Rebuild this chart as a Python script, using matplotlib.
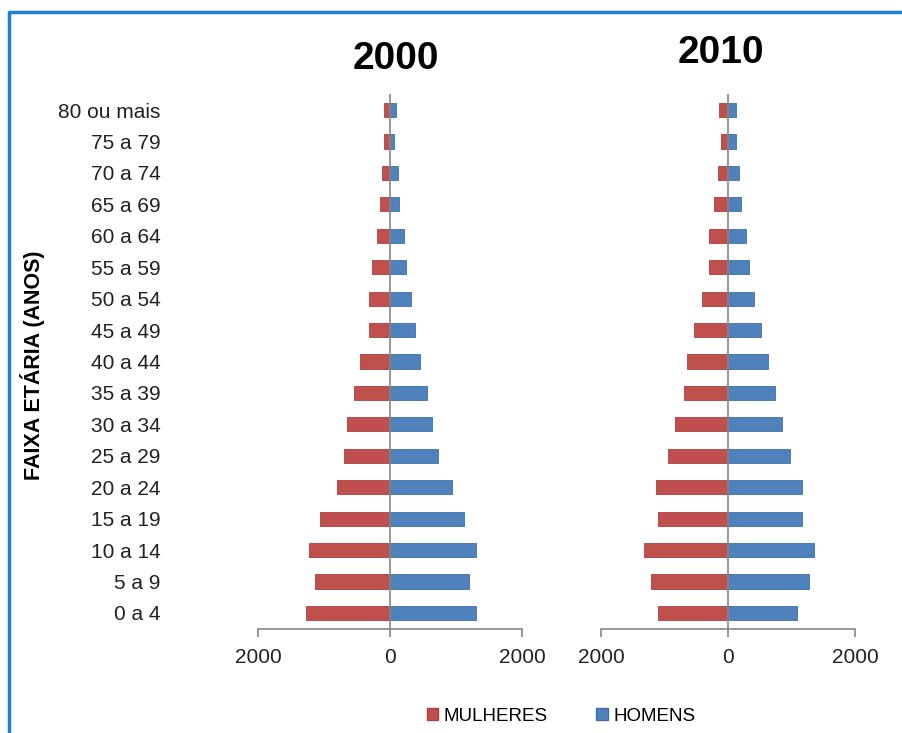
import matplotlib.pyplot as plt
from matplotlib.lines import Line2D
from matplotlib.patches import Patch

# faixas etárias, de baixo para cima
faixas = ['0 a 4', '5 a 9', '10 a 14', '15 a 19', '20 a 24', '25 a 29',
          '30 a 34', '35 a 39', '40 a 44', '45 a 49', '50 a 54', '55 a 59',
          '60 a 64', '65 a 69', '70 a 74', '75 a 79', '80 ou mais']

mulheres_2000 = [1270, 1140, 1220, 1065, 810, 700, 650, 550, 450, 325, 325,
                 270, 195, 145, 120, 95, 85]
homens_2000 = [1300, 1200, 1300, 1120, 940, 735, 630, 555, 450, 375, 325,
               240, 215, 140, 115, 65, 90]
mulheres_2010 = [1108, 1218, 1318, 1108, 1129, 945, 840, 698, 646, 541, 410,
                 305, 305, 220, 163, 110, 137]
homens_2010 = [1092, 1276, 1360, 1171, 1171, 982, 845, 746, 635, 525, 415,
               336, 289, 210, 179, 126, 126]

anos = ['2000', '2010']
ticks = [-2000, 0, 2000]
tick_labels = ['2000', '0', '2000']

vermelho = '#C0504D'
azul = '#4F81BD'
cinza = '#868686'

plt.rcParams['font.family'] = ['Liberation Sans', 'DejaVu Sans']

fig = plt.figure(figsize=(9.02, 7.33), dpi=100)
ax1 = fig.add_axes([0.286, 0.1423, 0.2927, 0.729])
ax2 = fig.add_axes([0.6663, 0.1423, 0.2816, 0.729])

y = range(len(faixas))
dados = [(ax1, mulheres_2000, homens_2000), (ax2, mulheres_2010, homens_2010)]
for ax, mulheres, homens in dados:
    ax.barh(y, [-v for v in mulheres], height=0.45, color=vermelho,
            edgecolor='#A9403D', linewidth=0.6)
    ax.barh(y, homens, height=0.45, color=azul,
            edgecolor='#3F6FA6', linewidth=0.6)
    ax.axvline(0, color=cinza, linewidth=1.2)
    ax.set_xlim(-2000, 2000)
    ax.set_ylim(-0.5, len(faixas) - 0.5)
    for s in ['top', 'right', 'left']:
        ax.spines[s].set_visible(False)
    ax.spines['bottom'].set_color(cinza)
    ax.spines['bottom'].set_linewidth(1.2)
    ax.set_xticks(ticks)
    ax.set_xticklabels(tick_labels, fontsize=15, color='#222222')
    ax.tick_params(axis='x', direction='out', length=6, width=1.2,
                   color=cinza, pad=8)

ax1.set_yticks(list(y))
ax1.set_yticklabels(faixas, fontsize=15, color='#222222')
ax1.tick_params(axis='y', length=0, pad=70)
ax2.set_yticks([])

# títulos dos anos
fig.text(396 / 902, 1 - 59 / 733, anos[0], fontsize=28, fontweight='bold',
         ha='center', va='center')
fig.text(721 / 902, 1 - 53 / 733, anos[1], fontsize=28, fontweight='bold',
         ha='center', va='center')

fig.text(33 / 902, 1 - 365 / 733, 'FAIXA ETÁRIA (ANOS)', fontsize=15.5,
         fontweight='bold', rotation=90, ha='center', va='center')

handles = [Patch(facecolor=vermelho, edgecolor='#A9403D', label='MULHERES'),
           Patch(facecolor=azul, edgecolor='#3F6FA6', label='HOMENS')]
fig.legend(handles=handles, loc='center', bbox_to_anchor=(0.622, 0.023),
           ncol=2, frameon=False, fontsize=13.5, handlelength=0.6,
           handleheight=0.6, handletextpad=0.3, columnspacing=2.6)

# moldura azul
fig.add_artist(Line2D([8.5 / 902, 8.5 / 902, 1], [0, 1 - 12 / 733, 1 - 12 / 733],
                      color='#1E7FD8', linewidth=2.5))

fig.savefig('out.png', dpi=100)
